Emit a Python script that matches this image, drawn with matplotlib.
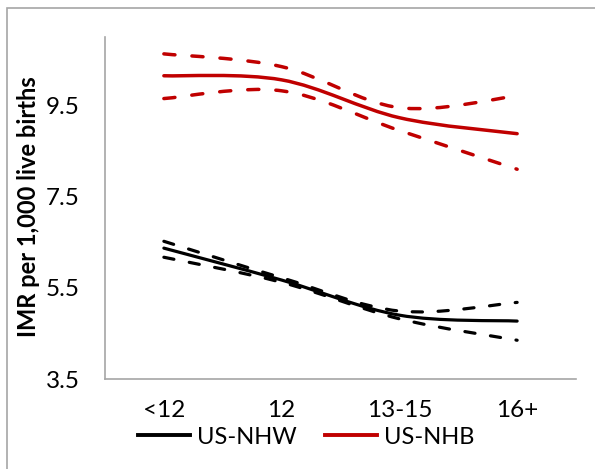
import numpy as np
import matplotlib
matplotlib.use('Agg')
import matplotlib.pyplot as plt
from matplotlib.path import Path
from matplotlib.patches import PathPatch, Rectangle
from matplotlib.lines import Line2D

plt.rcParams['font.family'] = ['Lato', 'DejaVu Sans']

categories = ['<12', '12', '13-15', '16+']

# US non-Hispanic white: estimate and bounds
nhw = [6.37, 5.67, 4.90, 4.77]
nhw_hi = [6.52, 5.72, 4.99, 5.18]
nhw_lo = [6.17, 5.62, 4.82, 4.35]

# US non-Hispanic black: estimate and bounds
nhb = [10.15, 10.06, 9.23, 8.88]
nhb_hi = [10.63, 10.35, 9.45, 9.71]
nhb_lo = [9.65, 9.82, 8.95, 8.10]

RED = '#C00000'
GRAY = '#A6A6A6'


def smooth_path(ys):
    """Excel-like smoothed line through the points as cubic Bezier segments."""
    pts = np.column_stack([np.arange(len(ys)), ys]).astype(float)
    ext = np.vstack([pts[0], pts, pts[-1]])
    verts = [pts[0]]
    codes = [Path.MOVETO]
    for i in range(len(pts) - 1):
        p0, p1, p2, p3 = ext[i], ext[i + 1], ext[i + 2], ext[i + 3]
        verts += [p1 + (p2 - p0) / 6, p2 - (p3 - p1) / 6, p2]
        codes += [Path.CURVE4] * 3
    return Path(verts, codes)


def draw(ax, ys, color, lw, dashed=False):
    patch = PathPatch(smooth_path(ys), fill=False, edgecolor=color, lw=lw,
                      capstyle='round', joinstyle='round')
    if dashed:
        patch.set_linestyle((0, (3.2, 4.9)))
    ax.add_patch(patch)


fig = plt.figure(figsize=(5.95, 4.69), dpi=100)
fig.patches.append(Rectangle((7 / 595, -0.1), 1.2, 1 - 8 / 469 + 0.1,
                             transform=fig.transFigure, fill=False,
                             edgecolor=GRAY, lw=1.2))
ax = fig.add_axes([105 / 595, 90 / 469, 471 / 595, 342 / 469])

draw(ax, nhb_hi, RED, 2.5, dashed=True)
draw(ax, nhb_lo, RED, 2.5, dashed=True)
draw(ax, nhb, RED, 2.5)
draw(ax, nhw_hi, 'black', 2.3, dashed=True)
draw(ax, nhw_lo, 'black', 2.3, dashed=True)
draw(ax, nhw, 'black', 2.3)

ax.set_xlim(-0.5, 3.5)
ax.set_ylim(3.5, 11.0)
ax.set_xticks(range(len(categories)))
ax.set_xticklabels(categories)
ax.set_yticks([3.5, 5.5, 7.5, 9.5])
ax.set_yticklabels(['3.5', '5.5', '7.5', '9.5'])
ax.tick_params(length=0, labelsize=17.5)
ax.tick_params(axis='y', pad=18)
ax.tick_params(axis='x', pad=15)
for s in ['top', 'right']:
    ax.spines[s].set_visible(False)
for s in ['left', 'bottom']:
    ax.spines[s].set_color(GRAY)
    ax.spines[s].set_linewidth(1.2)

fig.text(29 / 595, 1 - 207 / 469, 'IMR per 1,000 live births', rotation=90,
         ha='center', va='center', fontsize=17, fontweight='bold')

handles = [Line2D([], [], color='black', lw=2.8),
           Line2D([], [], color=RED, lw=2.8)]
fig.legend(handles, ['US-NHW', 'US-NHB'], loc='center', ncol=2,
           bbox_to_anchor=(306 / 595, 1 - 437 / 469), frameon=False,
           fontsize=17, handlelength=2.2, handletextpad=0.3,
           columnspacing=1.2, borderpad=0, borderaxespad=0)

fig.savefig('out.png', dpi=100)
